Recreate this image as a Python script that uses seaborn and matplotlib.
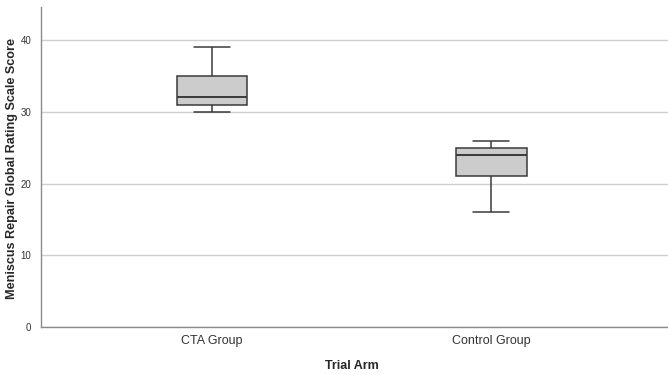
import matplotlib
matplotlib.use("Agg")
import matplotlib.pyplot as plt
import seaborn as sns
import pandas as pd

# Data (values chosen to reproduce the displayed box statistics)
categories = ["CTA Group", "Control Group"]
cta_scores = [30, 31, 31, 32, 32, 35, 35, 39]
control_scores = [16, 21, 21, 24, 24, 25, 25, 26]
y_ticks = [0, 10, 20, 30, 40]

df = pd.DataFrame({
    "Trial Arm": [categories[0]] * len(cta_scores) + [categories[1]] * len(control_scores),
    "Score": cta_scores + control_scores,
})

sns.set_style("white")
plt.rcParams["font.family"] = ["Liberation Sans", "DejaVu Sans"]

fig = plt.figure(figsize=(6.68, 3.74), dpi=100)
ax = fig.add_axes([0.0614, 0.1257, 0.9386, 0.8553])

edge = "#3a3a3a"
sns.boxplot(data=df, x="Trial Arm", y="Score", order=categories, ax=ax,
            width=0.254, color="#cccccc", linecolor=edge, linewidth=1.1,
            fill=True, saturation=1, whis=1.5,
            boxprops=dict(facecolor="#cccccc", edgecolor=edge),
            medianprops=dict(color=edge, linewidth=1.4),
            whiskerprops=dict(color=edge), capprops=dict(color=edge))

ax.set_xlim(-0.613, 1.634)
ax.set_ylim(0, 44.6)
ax.set_yticks(y_ticks)
ax.yaxis.grid(True, color="#cfcfcf", linewidth=1.0)
ax.set_axisbelow(True)
for s in ["top", "right"]:
    ax.spines[s].set_visible(False)
for s in ["left", "bottom"]:
    ax.spines[s].set_color("#8a8a8a")
    ax.spines[s].set_linewidth(1.0)
ax.tick_params(axis="both", length=0)
ax.tick_params(axis="y", labelsize=7, labelcolor="#333333", pad=7)
ax.tick_params(axis="x", labelsize=9, labelcolor="#333333", pad=6)
ax.set_xlabel("Trial Arm", fontsize=9, fontweight="bold")
ax.xaxis.set_label_coords(0.496, -0.122)
ax.xaxis.label.set_va("center")
ax.set_ylabel("Meniscus Repair Global Rating Scale Score", fontsize=9.1,
              fontweight="bold")
ax.yaxis.set_label_coords(-0.047, 0.497)
ax.yaxis.label.set_va("center")

fig.savefig("out.png", dpi=100)
